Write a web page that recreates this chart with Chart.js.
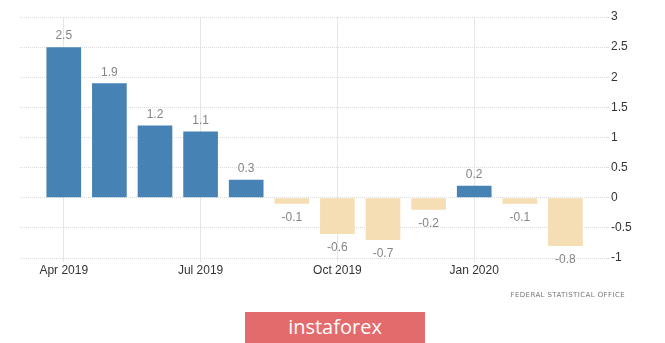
<!DOCTYPE html>
<html>
<head>
<meta charset="utf-8">
<script src="https://cdn.jsdelivr.net/npm/chart.js@4"></script>
<style>
  body { margin: 0; background: #fff; }
  #wrap { position: relative; width: 665px; height: 343px; overflow: hidden; }
  #source { position: absolute; right: 40px; top: 291px; font: 7px "DejaVu Sans", sans-serif; color: #777; letter-spacing: 0.4px; }
  #brand { position: absolute; left: 245px; top: 312px; width: 180px; height: 31px; background: #e46b6c;
           color: #fff; font: 20px "Open Sans", sans-serif; text-align: center; line-height: 29px; }
</style>
</head>
<body>
<div id="wrap">
  <canvas id="mychart" width="665" height="343"></canvas>
  <div id="source">FEDERAL STATISTICAL OFFICE</div>
  <div id="brand">instaforex</div>
</div>
<script>
// monthly change, %
var months = ['Apr 2019','May 2019','Jun 2019','Jul 2019','Aug 2019','Sep 2019',
              'Oct 2019','Nov 2019','Dec 2019','Jan 2020','Feb 2020','Mar 2020'];
var values = [2.5, 1.9, 1.2, 1.1, 0.3, -0.1, -0.6, -0.7, -0.2, 0.2, -0.1, -0.8];
var tickLabels = ['Apr 2019','Jul 2019','Oct 2019','Jan 2020'];

var upColor = '#4682b4';
var downColor = '#f5deb3';

// value labels above / below each bar
var valueLabels = {
  id: 'valueLabels',
  afterDatasetsDraw: function(chart) {
    var ctx = chart.ctx;
    var meta = chart.getDatasetMeta(0);
    ctx.save();
    ctx.font = '12px "Liberation Sans", sans-serif';
    ctx.fillStyle = '#858585';
    ctx.textAlign = 'center';
    ctx.textBaseline = 'middle';
    meta.data.forEach(function(bar, i) {
      var v = values[i];
      var y = v >= 0 ? bar.y - 11 : bar.y + 14;
      ctx.fillText(String(v), bar.x, y);
    });
    ctx.restore();
  }
};

var ctx = document.getElementById('mychart');
var myChart = new Chart(ctx, {
  type: 'bar',
  data: {
    datasets: [{
      data: values.map(function(v, i) { return { x: i, y: v }; }),
      backgroundColor: values.map(function(v) { return v >= 0 ? upColor : downColor; }),
      borderWidth: 0,
      barPercentage: 0.76,
      categoryPercentage: 1
    }]
  },
  options: {
    responsive: false,
    animation: false,
    layout: { padding: { left: 20, top: 17, right: 0, bottom: 0 } },
    plugins: { legend: { display: false }, tooltip: { enabled: false } },
    scales: {
      x: {
        type: 'linear',
        offset: false,
        min: -0.96,
        max: 11.89,
        afterBuildTicks: function(scale) {
          scale.ticks = tickLabels.map(function(l) { return { value: months.indexOf(l) }; });
        },
        afterFit: function(scale) { scale.height = 85; },
        ticks: {
          autoSkip: false,
          maxRotation: 0,
          padding: 1,
          color: '#333',
          font: { family: '"Liberation Sans", sans-serif', size: 12 },
          callback: function(v) { return months[v]; }
        },
        grid: { color: '#e6e6e6', tickLength: 4, offset: false },
        border: { display: false }
      },
      y: {
        position: 'right',
        min: -1,
        max: 3,
        afterFit: function(scale) { scale.width = 59; },
        ticks: {
          stepSize: 0.5,
          padding: 2,
          color: '#333',
          font: { family: '"Liberation Sans", sans-serif', size: 12 },
          callback: function(v) { return String(Number(v.toFixed(1))); }
        },
        grid: { color: '#dcdcdc', tickLength: 3 },
        border: { display: false, dash: [1, 1] }
      }
    }
  },
  plugins: [valueLabels]
});
</script>
</body>
</html>
